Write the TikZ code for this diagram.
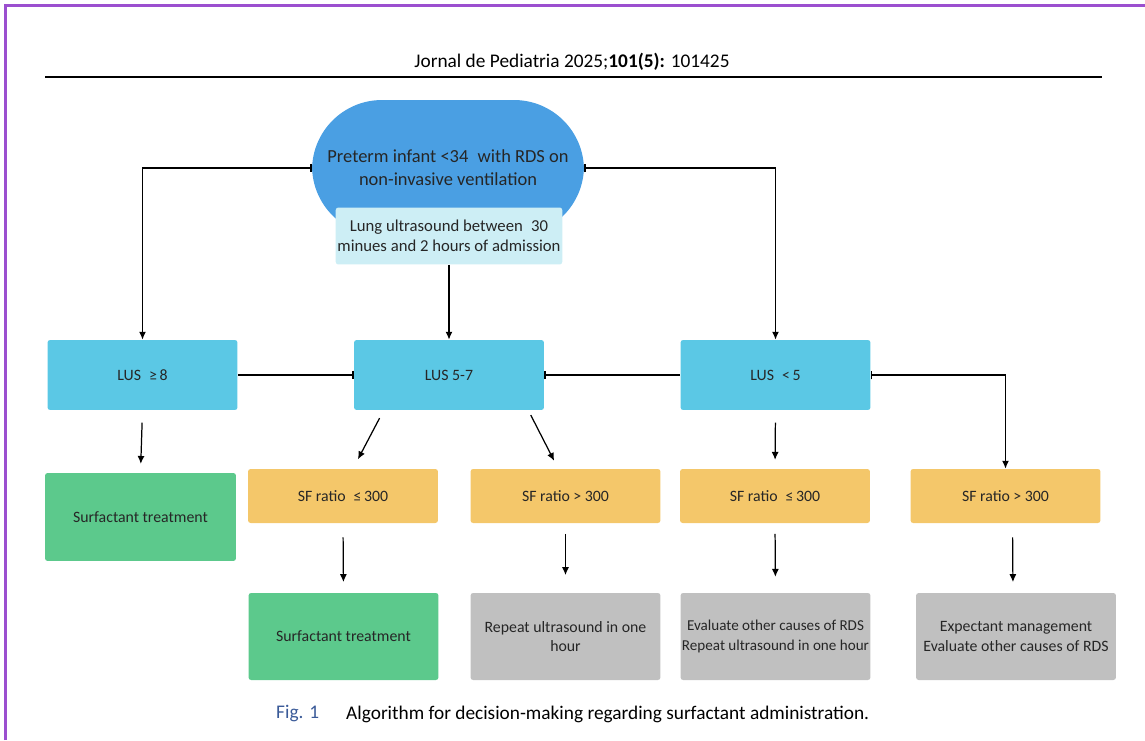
\documentclass[tikz,border=0pt]{standalone}
\usepackage{fontspec}
\setmainfont{Carlito}
\usepackage{tikz}
\usetikzlibrary{positioning, arrows.meta, calc}

\definecolor{framepurple}{HTML}{9B4FCF}
\definecolor{preblue}{HTML}{4A9FE3}
\definecolor{lightcyan}{HTML}{CDEEF5}
\definecolor{lusblue}{HTML}{5BC8E5}
\definecolor{sforange}{HTML}{F4C76A}
\definecolor{treatgreen}{HTML}{5CC98C}
\definecolor{plaingray}{HTML}{C0C0C0}
\definecolor{figblue}{HTML}{3A5A98}

\tikzset{
    box/.style={rectangle, rounded corners=1.5pt, align=center, text=black!85,
        font=\fontsize{9}{11}\selectfont, minimum width=3.8cm, inner xsep=1pt},
    lusbox/.style={box, fill=lusblue, minimum height=1.4cm},
    sfbox/.style={box, fill=sforange, minimum height=1.08cm},
    greenbox/.style={box, fill=treatgreen},
    graybox/.style={box, fill=plaingray, minimum height=1.74cm},
    arr/.style={line width=0.7pt, -{Latex[length=4.5pt,width=4pt]}},
    bararr/.style={line width=0.7pt, {Bar[width=5pt]}-{Latex[length=4.5pt,width=4pt]}},
    barline/.style={line width=0.7pt, {Bar[width=5pt]}-},
    gap/.style={shorten <=7pt, shorten >=5pt}
}

\begin{document}
\begin{tikzpicture}[x=0.02cm, y=-0.02cm]
    \useasboundingbox (0,0) rectangle (1145,740);

    % page frame and header
    \draw[framepurple, line width=1.7pt] (5.5,740) -- (5.5,5.5) -- (1145,5.5);
    \node[font=\fontsize{11}{13}\selectfont] (header) at (572,62)
        {Jornal de Pediatria 2025;\textbf{101(5):} 101425};
    \draw[line width=1.1pt] (45,77) -- (1102,77);

    % top shape
    \node[rectangle, rounded corners=1.4cm, fill=preblue, minimum width=5.44cm,
        minimum height=2.72cm, align=center, text=black!85,
        font=\fontsize{10.5}{13}\selectfont] (pre) at (448,168)
        {Preterm infant <34\enspace with RDS on\\non-invasive ventilation};
    \node[box, fill=lightcyan, minimum width=4.5cm, minimum height=1.14cm, font=\fontsize{9.5}{11.5}\selectfont] (lung) at (449,236)
        {Lung ultrasound between\enspace 30\\minues and 2 hours of admission};

    % LUS row
    \node[lusbox] (lus8) at (142.5,375) {LUS\enspace ≥\,8};
    \node[lusbox] (lus57) at (449,375) {LUS 5-7};
    \node[lusbox] (lus5) at (775.5,375) {LUS\enspace <\,5};

    % SF row
    \node[greenbox, minimum width=3.82cm, minimum height=1.76cm] (surfA) at (140.5,517) {Surfactant treatment};
    \node[sfbox] (sfA) at (343,496) {SF ratio\enspace ≤\,300};
    \node[sfbox] (sfB) at (565.5,496) {SF ratio > 300};
    \node[sfbox] (sfC) at (775,496) {SF ratio\enspace ≤\,300};
    \node[sfbox] (sfD) at (1005.5,496) {SF ratio > 300};

    % outcome row
    \node[greenbox, minimum height=1.74cm] (surfB) at (343.5,636.5) {Surfactant treatment};
    \node[graybox] (repeat) at (565.5,636.5) {Repeat ultrasound in one\\hour};
    \node[graybox, font=\fontsize{8.6}{11}\selectfont, inner xsep=0pt] (evaluate) at (775.5,636.5)
        {Evaluate other causes of RDS\\Repeat ultrasound in one hour};
    \node[graybox, minimum width=4cm] (expect) at (1016,636.5) {Expectant management\\Evaluate other causes of RDS};

    % connectors from the top
    \draw[bararr] (pre.west) -| (lus8.north);
    \draw[bararr] (pre.east) -| (lus5.north);
    \draw[arr] (lung.south) -- (lus57.north);

    % links between LUS boxes
    \draw[barline] (lus57.west) -- (lus8.east);
    \draw[barline] (lus57.east) -- (lus5.west);
    \draw[bararr] (lus5.east) -| (sfD.north);

    % down arrows
    \draw[arr, gap] (lus8.south) -- (surfA.north);
    \draw[arr, shorten <=5pt, shorten >=6pt] ($(lus57.south west)+(30,0)$) -- ($(sfA.north)+(10,0)$);
    \draw[arr, shorten <=3pt, shorten >=5pt] ($(lus57.south east)+(-16,0)$) -- ($(sfB.north west)+(88,0)$);
    \draw[arr, gap] (lus5.south) -- (sfC.north);
    \draw[arr, shorten <=8pt, shorten >=6pt] (sfA.south) -- (surfB.north);
    \draw[arr, shorten <=6pt, shorten >=10pt] (sfB.south) -- (repeat.north);
    \draw[arr, shorten <=6pt, shorten >=9pt] (sfC.south) -- (evaluate.north);
    \draw[arr, shorten <=8pt, shorten >=6pt] ($(sfD.south)+(7,0)$) -- ($(expect.north)+(-3,0)$);

    % caption
    \node[anchor=west, text=figblue, font=\fontsize{11}{13}\selectfont] (fig) at (270,714) {Fig. 1};
    \node[anchor=west, font=\fontsize{11}{13}\selectfont] (caption) at (340,714)
        {Algorithm for decision-making regarding surfactant administration.};
\end{tikzpicture}
\end{document}
